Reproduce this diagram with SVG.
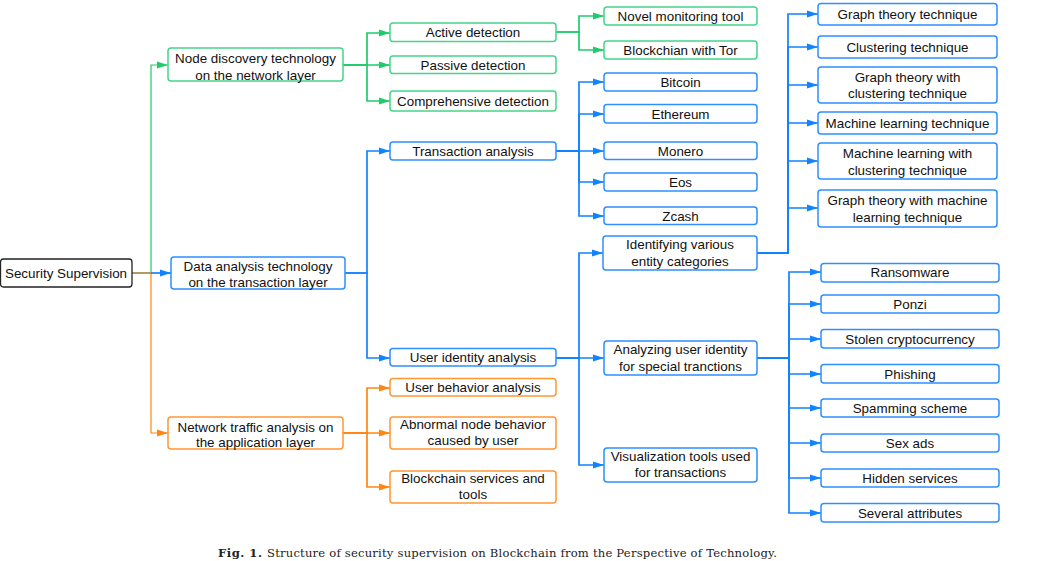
<svg xmlns="http://www.w3.org/2000/svg" width="1044" height="561" viewBox="0 0 1044 561">
<style>
text{font-family:"Liberation Sans",Arial,sans-serif;font-size:13.4px;fill:#111;text-anchor:middle}
.g rect{fill:#fff;stroke:#45D58A;stroke-width:1.5}
.b rect{fill:#fff;stroke:#2C8EFF;stroke-width:1.5}
.o rect{fill:#fff;stroke:#FF9632;stroke-width:1.5}
.k rect{fill:#fff;stroke:#222;stroke-width:1.3}
.cg{fill:none;stroke:#1FCB6C;stroke-width:1.7}
.cb{fill:none;stroke:#1183FF;stroke-width:1.7}
.co{fill:none;stroke:#FF8612;stroke-width:1.7}
.cap{font-family:"DejaVu Serif","Liberation Serif",serif;font-size:11.6px;text-anchor:start;fill:#222}
</style>
<defs>
<marker id="ag" markerUnits="userSpaceOnUse" markerWidth="11" markerHeight="8" refX="11" refY="4" orient="auto"><path d="M0,0.5 L11,4 L0,7.5z" fill="#1FCB6C"/></marker>
<marker id="ab" markerUnits="userSpaceOnUse" markerWidth="11" markerHeight="8" refX="11" refY="4" orient="auto"><path d="M0,0.5 L11,4 L0,7.5z" fill="#1183FF"/></marker>
<marker id="ao" markerUnits="userSpaceOnUse" markerWidth="11" markerHeight="8" refX="11" refY="4" orient="auto"><path d="M0,0.5 L11,4 L0,7.5z" fill="#FF8612"/></marker>
</defs>
<g id="connectors">
<path class="cg" style="stroke-width:1.2" marker-end="url(#ag)" d="M151,273 V65 H168"/>
<path class="co" style="stroke-width:1.2" marker-end="url(#ao)" d="M151,273 V433 H168"/>
<path class="cb" marker-end="url(#ab)" d="M151,273 H171"/>
<path fill="none" stroke="#A8874A" stroke-width="1.7" d="M132,273 H151"/>
<path class="cg" marker-end="url(#ag)" d="M343,65 H367 V33 H390"/>
<path class="cg" marker-end="url(#ag)" d="M343,65 H390"/>
<path class="cg" marker-end="url(#ag)" d="M343,65 H367 V101 H390"/>
<path class="cg" marker-end="url(#ag)" d="M556,32 H579 V16 H604"/>
<path class="cg" marker-end="url(#ag)" d="M556,32 H579 V50 H604"/>
<path class="cb" marker-end="url(#ab)" d="M345,273 H367 V151 H390"/>
<path class="cb" marker-end="url(#ab)" d="M345,273 H367 V358 H390"/>
<path class="cb" marker-end="url(#ab)" d="M556,151 H579 V82 H604"/>
<path class="cb" marker-end="url(#ab)" d="M556,151 H579 V114 H604"/>
<path class="cb" marker-end="url(#ab)" d="M556,151 H604"/>
<path class="cb" marker-end="url(#ab)" d="M556,151 H579 V182 H604"/>
<path class="cb" marker-end="url(#ab)" d="M556,151 H579 V216 H604"/>
<path class="cb" marker-end="url(#ab)" d="M556,358 H579 V253 H603"/>
<path class="cb" marker-end="url(#ab)" d="M556,358 H604"/>
<path class="cb" marker-end="url(#ab)" d="M556,358 H579 V465 H604"/>
<path class="cb" marker-end="url(#ab)" d="M757,253 H788 V14 H818"/>
<path class="cb" marker-end="url(#ab)" d="M757,253 H788 V47 H818"/>
<path class="cb" marker-end="url(#ab)" d="M757,253 H788 V85 H818"/>
<path class="cb" marker-end="url(#ab)" d="M757,253 H788 V123 H818"/>
<path class="cb" marker-end="url(#ab)" d="M757,253 H788 V161 H818"/>
<path class="cb" marker-end="url(#ab)" d="M757,253 H788 V208 H818"/>
<path class="cb" marker-end="url(#ab)" d="M757,358 H789 V272 H821"/>
<path class="cb" marker-end="url(#ab)" d="M757,358 H789 V304 H821"/>
<path class="cb" marker-end="url(#ab)" d="M757,358 H789 V339 H821"/>
<path class="cb" marker-end="url(#ab)" d="M757,358 H789 V374 H821"/>
<path class="cb" marker-end="url(#ab)" d="M757,358 H789 V408 H821"/>
<path class="cb" marker-end="url(#ab)" d="M757,358 H789 V443 H821"/>
<path class="cb" marker-end="url(#ab)" d="M757,358 H789 V478 H821"/>
<path class="cb" marker-end="url(#ab)" d="M757,358 H789 V513 H821"/>
<path class="co" marker-end="url(#ao)" d="M343,433 H367 V388 H390"/>
<path class="co" marker-end="url(#ao)" d="M343,433 H390"/>
<path class="co" marker-end="url(#ao)" d="M343,433 H367 V487 H390"/>
</g>
<g id="root" class="k"><rect x="0.5" y="259" width="131.5" height="28" rx="3"/><text x="66" y="278">Security Supervision</text></g>
<g id="node-discovery" class="g"><rect x="168" y="48" width="175" height="33" rx="3"/><text x="255.5" y="63">Node discovery technology</text><text x="255.5" y="80">on the network layer</text></g>
<g id="data-analysis" class="b"><rect x="171" y="257" width="174" height="32" rx="3"/><text x="258" y="271">Data analysis technology</text><text x="258" y="287">on the transaction layer</text></g>
<g id="network-traffic" class="o"><rect x="168" y="417" width="175" height="32" rx="3"/><text x="255.5" y="432">Network traffic analysis on</text><text x="255.5" y="447">the application layer</text></g>
<g id="active" class="g"><rect x="390" y="23" width="166" height="18.5" rx="3"/><text x="473" y="37">Active detection</text></g>
<g id="passive" class="g"><rect x="390" y="56" width="166" height="17.5" rx="3"/><text x="473" y="70">Passive detection</text></g>
<g id="comprehensive" class="g"><rect x="390" y="91" width="166" height="20" rx="3"/><text x="473" y="106">Comprehensive detection</text></g>
<g id="novel" class="g"><rect x="604" y="7" width="153" height="18" rx="3"/><text x="680.5" y="21">Novel monitoring tool</text></g>
<g id="tor" class="g"><rect x="604" y="41" width="153" height="18" rx="3"/><text x="680.5" y="55">Blockchian with Tor</text></g>
<g id="transaction" class="b"><rect x="390" y="142" width="166" height="18" rx="3"/><text x="473" y="156">Transaction analysis</text></g>
<g id="bitcoin" class="b"><rect x="604" y="73" width="153" height="18" rx="3"/><text x="680.5" y="87">Bitcoin</text></g>
<g id="ethereum" class="b"><rect x="604" y="104.5" width="153" height="18.5" rx="3"/><text x="680.5" y="119">Ethereum</text></g>
<g id="monero" class="b"><rect x="604" y="142" width="153" height="17.5" rx="3"/><text x="680.5" y="156">Monero</text></g>
<g id="eos" class="b"><rect x="604" y="173" width="153" height="18" rx="3"/><text x="680.5" y="187">Eos</text></g>
<g id="zcash" class="b"><rect x="604" y="207" width="153" height="17.5" rx="3"/><text x="680.5" y="221">Zcash</text></g>
<g id="user-identity" class="b"><rect x="390" y="348.5" width="166" height="17.5" rx="3"/><text x="473" y="362">User identity analysis</text></g>
<g id="identifying" class="b"><rect x="603" y="236" width="154" height="34" rx="3"/><text x="680" y="249">Identifying various</text><text x="680" y="266">entity categories</text></g>
<g id="analyzing" class="b"><rect x="604" y="341" width="153" height="34" rx="3"/><text x="680.5" y="354">Analyzing user identity</text><text x="680.5" y="371">for special tranctions</text></g>
<g id="visualization" class="b"><rect x="604" y="448" width="153" height="34" rx="3"/><text x="680.5" y="461">Visualization tools used</text><text x="680.5" y="477">for transactions</text></g>
<g id="graph-theory" class="b"><rect x="818" y="3.5" width="179" height="21.5" rx="3"/><text x="907.5" y="19">Graph theory technique</text></g>
<g id="clustering" class="b"><rect x="818" y="36" width="179" height="22" rx="3"/><text x="907.5" y="52">Clustering technique</text></g>
<g id="graph-clustering" class="b"><rect x="818" y="67" width="179" height="36" rx="3"/><text x="907.5" y="82">Graph theory with</text><text x="907.5" y="98">clustering technique</text></g>
<g id="machine-learning" class="b"><rect x="818" y="112" width="179" height="22" rx="3"/><text x="907.5" y="128">Machine learning technique</text></g>
<g id="ml-clustering" class="b"><rect x="818" y="143" width="179" height="36" rx="3"/><text x="907.5" y="158">Machine learning with</text><text x="907.5" y="175">clustering technique</text></g>
<g id="graph-ml" class="b"><rect x="818" y="190" width="179" height="37" rx="3"/><text x="907.5" y="205">Graph theory with machine</text><text x="907.5" y="222">learning technique</text></g>
<g id="ransomware" class="b"><rect x="821" y="263.5" width="178" height="18.5" rx="3"/><text x="910" y="277">Ransomware</text></g>
<g id="ponzi" class="b"><rect x="821" y="295" width="178" height="18" rx="3"/><text x="910" y="309">Ponzi</text></g>
<g id="stolen" class="b"><rect x="821" y="329.5" width="178" height="18.5" rx="3"/><text x="910" y="344">Stolen cryptocurrency</text></g>
<g id="phishing" class="b"><rect x="821" y="364.5" width="178" height="18.5" rx="3"/><text x="910" y="379">Phishing</text></g>
<g id="spamming" class="b"><rect x="821" y="399" width="178" height="18" rx="3"/><text x="910" y="413">Spamming scheme</text></g>
<g id="sex-ads" class="b"><rect x="821" y="434" width="178" height="18" rx="3"/><text x="910" y="448">Sex ads</text></g>
<g id="hidden" class="b"><rect x="821" y="469" width="178" height="18" rx="3"/><text x="910" y="483">Hidden services</text></g>
<g id="several" class="b"><rect x="821" y="503.5" width="178" height="18.5" rx="3"/><text x="910" y="518">Several attributes</text></g>
<g id="user-behavior" class="o"><rect x="390" y="378.5" width="166" height="17.5" rx="3"/><text x="473" y="392">User behavior analysis</text></g>
<g id="abnormal" class="o"><rect x="390" y="417" width="166" height="32" rx="3"/><text x="473" y="429">Abnormal node behavior</text><text x="473" y="445">caused by user</text></g>
<g id="blockchain-services" class="o"><rect x="390" y="471" width="166" height="32" rx="3"/><text x="473" y="483">Blockchain services and</text><text x="473" y="499">tools</text></g>
<text class="cap" x="218" y="557" font-weight="bold" textLength="44" lengthAdjust="spacing">Fig. 1.</text>
<text class="cap" x="267" y="557" textLength="510" lengthAdjust="spacing">Structure of security supervision on Blockchain from the Perspective of Technology.</text>
</svg>
